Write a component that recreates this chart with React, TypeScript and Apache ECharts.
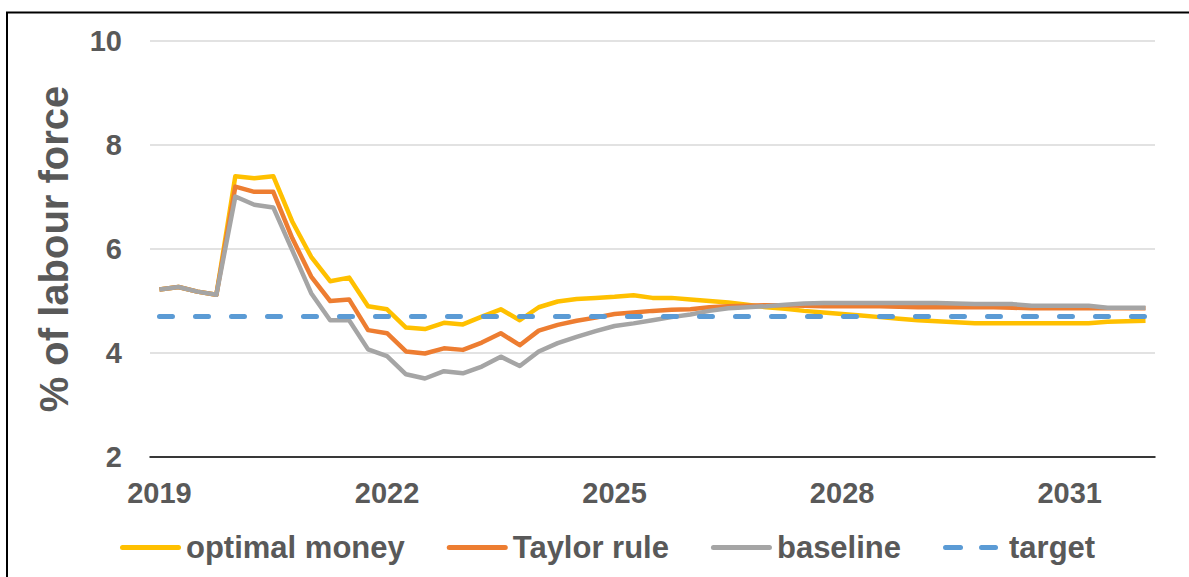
import React, { useEffect, useRef } from "react";
import * as echarts from "echarts";

const years = ["2019", "2020", "2021", "2022", "2023", "2024", "2025", "2026", "2027", "2028", "2029", "2030", "2031", "2032"];
const quarterNames = ["Q1", "Q2", "Q3", "Q4"];
const categories: string[] = [];
years.forEach((y) => quarterNames.forEach((q) => categories.push(y + " " + q)));
categories.splice(53);

const seriesNames = ["optimal money", "Taylor rule", "baseline", "target"];

const optimalMoney = [
  5.22, 5.27, 5.18, 5.12, 7.4, 7.36, 7.4, 6.53, 5.85, 5.38,
  5.45, 4.9, 4.84, 4.49, 4.46, 4.58, 4.55, 4.7, 4.84, 4.63,
  4.88, 4.99, 5.04, 5.06, 5.08, 5.11, 5.06, 5.06, 5.03, 5.0,
  4.97, 4.93, 4.88, 4.85, 4.81, 4.78, 4.75, 4.72, 4.69, 4.66,
  4.63, 4.61, 4.59, 4.57, 4.57, 4.57, 4.57, 4.57, 4.57, 4.57,
  4.6, 4.61, 4.62,
];

const taylorRule = [
  5.22, 5.27, 5.18, 5.12, 7.2, 7.1, 7.1, 6.21, 5.47, 5.0,
  5.03, 4.44, 4.38, 4.03, 3.99, 4.09, 4.06, 4.2, 4.38, 4.15,
  4.43, 4.54, 4.62, 4.68, 4.75, 4.78, 4.81, 4.83, 4.84, 4.88,
  4.9, 4.91, 4.92, 4.92, 4.91, 4.9, 4.9, 4.9, 4.9, 4.89,
  4.88, 4.88, 4.88, 4.88, 4.88, 4.87, 4.86, 4.86, 4.86, 4.86,
  4.86, 4.86, 4.86,
];

const baseline = [
  5.22, 5.27, 5.18, 5.12, 7.01, 6.85, 6.8, 5.98, 5.15, 4.63,
  4.63, 4.07, 3.94, 3.59, 3.51, 3.65, 3.61, 3.74, 3.93, 3.75,
  4.03, 4.19, 4.31, 4.42, 4.52, 4.57, 4.63, 4.69, 4.74, 4.81,
  4.86, 4.88, 4.9, 4.93, 4.95, 4.96, 4.96, 4.96, 4.96, 4.96,
  4.96, 4.96, 4.95, 4.94, 4.94, 4.94, 4.91, 4.91, 4.91, 4.91,
  4.87, 4.87, 4.87,
];

const targetValue = 4.7;
const target = categories.map(() => targetValue);

const yTicks = { min: 2, max: 10, interval: 2 };

const colors = ["#FFC000", "#ED7D31", "#A5A5A5", "#5B9BD5"];
const textColor = "#595959";
const fontFamily = "'Liberation Sans', Arial, sans-serif";

const solidIcon = "path://M2.5,0 H58.5 A2.5,2.5 0 0 1 58.5,5 H2.5 A2.5,2.5 0 0 1 2.5,0 Z";
const dashedIcon =
  "path://M2.5,0 H17.5 A2.5,2.5 0 0 1 17.5,5 H2.5 A2.5,2.5 0 0 1 2.5,0 Z M38.5,0 H52.5 A2.5,2.5 0 0 1 52.5,5 H38.5 A2.5,2.5 0 0 1 38.5,0 Z M61,0 L61,5 L61,0 Z";

export default function App() {
  const ref = useRef<HTMLDivElement>(null);

  useEffect(() => {
    if (!ref.current) return;
    const chart = echarts.init(ref.current, undefined, { renderer: "svg" });
    const values = [optimalMoney, taylorRule, baseline, target];
    chart.setOption({
      animation: false,
      backgroundColor: "#ffffff",
      textStyle: { fontFamily },
      grid: { left: 150, right: 34, top: 41, bottom: 120, containLabel: false },
      legend: {
        left: 115,
        top: 527,
        itemWidth: 61,
        itemHeight: 5,
        itemGap: 42,
        data: seriesNames.map((name, i) => ({
          name,
          icon: i === 3 ? dashedIcon : solidIcon,
          itemStyle: { color: colors[i] },
        })),
        textStyle: { fontSize: 31, fontWeight: "bold", color: textColor, fontFamily },
      },
      xAxis: {
        type: "category",
        data: categories,
        boundaryGap: true,
        axisLine: { show: true, lineStyle: { color: "#000000", width: 1.5 } },
        axisTick: { show: false },
        axisLabel: {
          interval: 11,
          formatter: (v: string) => v.slice(0, 4),
          fontSize: 29,
          fontWeight: "bold",
          color: textColor,
          margin: 21,
          fontFamily,
        },
        splitLine: { show: false },
      },
      yAxis: {
        type: "value",
        min: yTicks.min,
        max: yTicks.max,
        interval: yTicks.interval,
        name: "% of labour force",
        nameLocation: "middle",
        nameRotate: 90,
        nameGap: 76,
        nameTextStyle: { fontSize: 40, fontWeight: "bold", color: textColor, fontFamily },
        axisLine: { show: false },
        axisTick: { show: false },
        axisLabel: {
          fontSize: 29,
          fontWeight: "bold",
          color: textColor,
          margin: 28,
          fontFamily,
        },
        splitLine: { lineStyle: { color: "#D9D9D9", width: 1.5 } },
      },
      series: seriesNames.map((name, i) => ({
        name,
        type: "line",
        data: values[i],
        symbol: "none",
        showSymbol: false,
        color: colors[i],
        lineStyle:
          i === 3
            ? { color: colors[i], width: 5, type: [13, 23], cap: "round" }
            : { color: colors[i], width: 4.5, join: "round" },
        itemStyle: { color: colors[i] },
      })),
      graphic: [
        {
          type: "polyline",
          silent: true,
          shape: { points: [[7, 577], [7, 12.5], [1189, 12.5]] },
          style: { stroke: "#000000", lineWidth: 2, fill: "none" },
        },
      ],
    });
    return () => chart.dispose();
  }, []);

  return (
    <div
      ref={ref}
      style={{ position: "absolute", left: 0, top: 0, width: 1189, height: 577 }}
    />
  );
}
